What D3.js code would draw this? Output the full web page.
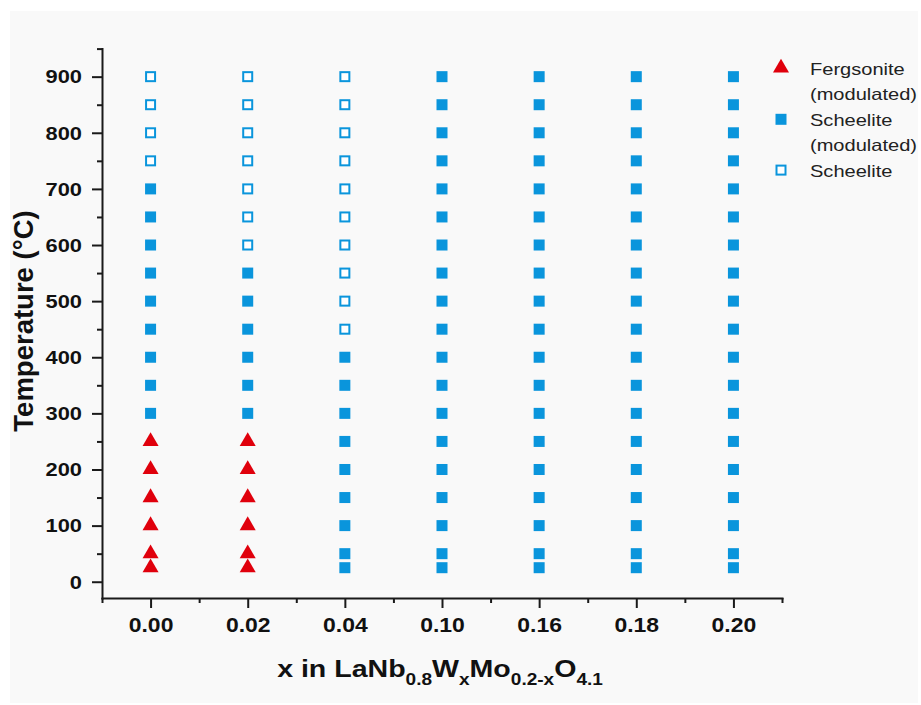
<!DOCTYPE html>
<html>
<head>
<meta charset="utf-8">
<script src="https://cdn.jsdelivr.net/npm/d3@7"></script>
<style>
  html, body { margin: 0; padding: 0; background: #ffffff; }
  svg { display: block; font-family: "Liberation Sans", Arial, sans-serif; }
</style>
</head>
<body>
<svg id="chart" width="921" height="705"></svg>
<script>
// ---- data ----
const categories = ["0.00", "0.02", "0.04", "0.10", "0.16", "0.18", "0.20"];
const yMajorTicks = [0, 100, 200, 300, 400, 500, 600, 700, 800, 900];
const yMinorTicks = [50, 150, 250, 350, 450, 550, 650, 750, 850, 950];

// Fergsonite (modulated): red triangles
const fergsonite = [
  { x: "0.00", t: [25, 50, 100, 150, 200, 250] },
  { x: "0.02", t: [25, 50, 100, 150, 200, 250] }
];
// Scheelite (modulated): filled blue squares
const scheeliteModulated = [
  { x: "0.00", t: [300, 350, 400, 450, 500, 550, 600, 650, 700] },
  { x: "0.02", t: [300, 350, 400, 450, 500, 550] },
  { x: "0.04", t: [25, 50, 100, 150, 200, 250, 300, 350, 400] },
  { x: "0.10", t: [25, 50, 100, 150, 200, 250, 300, 350, 400, 450, 500, 550, 600, 650, 700, 750, 800, 850, 900] },
  { x: "0.16", t: [25, 50, 100, 150, 200, 250, 300, 350, 400, 450, 500, 550, 600, 650, 700, 750, 800, 850, 900] },
  { x: "0.18", t: [25, 50, 100, 150, 200, 250, 300, 350, 400, 450, 500, 550, 600, 650, 700, 750, 800, 850, 900] },
  { x: "0.20", t: [25, 50, 100, 150, 200, 250, 300, 350, 400, 450, 500, 550, 600, 650, 700, 750, 800, 850, 900] }
];
// Scheelite: open blue squares
const scheelite = [
  { x: "0.00", t: [750, 800, 850, 900] },
  { x: "0.02", t: [600, 650, 700, 750, 800, 850, 900] },
  { x: "0.04", t: [450, 500, 550, 600, 650, 700, 750, 800, 850, 900] }
];
const legendLabels = [["Fergsonite", "(modulated)"], ["Scheelite", "(modulated)"], ["Scheelite"]];

// ---- styles ----
const RED = "#e0000c";
const BLUE = "#0a95dc";
const AXIS = "#1a1a1a";

const svg = d3.select("#chart");
svg.append("rect").attr("x", 10).attr("y", 11).attr("width", 908).attr("height", 692).attr("fill", "#f9f9f9");

const x = d3.scaleLinear().domain([-0.5, categories.length - 0.5]).range([102, 782]);
const y = d3.scaleLinear().domain([-29, 950]).range([598, 48.6]);
const xOf = c => x(categories.indexOf(c));

// flatten
const pts = (arr) => arr.flatMap(d => d.t.map(t => ({ x: d.x, t })));

// ---- axes ----
const gy = svg.append("g").attr("transform", `translate(${x.range()[0]},0)`);
gy.call(d3.axisLeft(y).tickValues(yMajorTicks).tickSize(10).tickSizeOuter(0));
const gyMinor = svg.append("g").attr("transform", `translate(${x.range()[0]},0)`);
gyMinor.call(d3.axisLeft(y).tickValues(yMinorTicks).tickSize(5).tickFormat(""));
gyMinor.select(".domain").remove();

const gx = svg.append("g").attr("transform", `translate(0,${y.range()[0]})`);
gx.call(d3.axisBottom(x).tickValues(d3.range(categories.length)).tickFormat(i => categories[i]).tickSize(10).tickSizeOuter(0));
const gxMinor = svg.append("g").attr("transform", `translate(0,${y.range()[0]})`);
gxMinor.call(d3.axisBottom(x).tickValues(d3.range(categories.length + 1).map(i => i - 0.5)).tickSize(5).tickFormat(""));
gxMinor.select(".domain").remove();

svg.selectAll(".domain, .tick line").attr("stroke", AXIS).attr("stroke-width", 2);
svg.selectAll(".domain").attr("stroke-linecap", "square");

gy.selectAll(".tick text")
  .attr("x", 0).attr("dy", "0.36em")
  .attr("transform", "translate(-20,0) scale(1.25,1)")
  .attr("text-anchor", "end")
  .attr("font-size", 17.5).attr("font-weight", "bold").attr("fill", "#111");

gx.selectAll(".tick text")
  .attr("y", 0).attr("dy", 0)
  .attr("transform", "translate(0,33.5) scale(1.12,1)")
  .attr("text-anchor", "middle")
  .attr("font-size", 20.5).attr("font-weight", "bold").attr("fill", "#111");

// ---- titles ----
const xt = svg.append("text")
  .attr("transform", "translate(440,677) scale(1.19,1)")
  .attr("text-anchor", "middle").attr("font-size", 24).attr("font-weight", "bold").attr("fill", "#111");
const parts = [["x in LaNb", 0], ["0.8", 1], ["W", 0], ["x", 1], ["Mo", 0], ["0.2-x", 1], ["O", 0], ["4.1", 1]];
let prevSub = 0;
parts.forEach(([s, sub]) => {
  const ts = xt.append("tspan").text(s);
  const dy = (sub - prevSub) * 8;
  if (dy !== 0) ts.attr("dy", dy);
  if (sub) ts.attr("font-size", 16);
  prevSub = sub;
});

svg.append("text")
  .attr("transform", "translate(33,321) rotate(-90)")
  .attr("text-anchor", "middle").attr("font-size", 27.5).attr("font-weight", "bold").attr("fill", "#111")
  .text("Temperature (°C)");

// ---- marks ----
const tri = d3.symbol().type(d3.symbolTriangle).size(111);
svg.append("g").selectAll("path").data(pts(fergsonite)).join("path")
  .attr("d", tri).attr("fill", RED)
  .attr("transform", d => `translate(${xOf(d.x)},${y(d.t)})`);

svg.append("g").selectAll("rect").data(pts(scheeliteModulated)).join("rect")
  .attr("x", d => xOf(d.x) - 5.5).attr("y", d => y(d.t) - 5.5)
  .attr("width", 11).attr("height", 11).attr("fill", BLUE);

svg.append("g").selectAll("rect").data(pts(scheelite)).join("rect")
  .attr("x", d => xOf(d.x) - 4.5).attr("y", d => y(d.t) - 4.5)
  .attr("width", 9).attr("height", 9).attr("fill", "#fff")
  .attr("stroke", BLUE).attr("stroke-width", 2);

// ---- legend ----
const lg = svg.append("g");
const lineH = 25.4, base0 = 75, lx = 781, tx = 810;
lg.append("path").attr("d", tri).attr("fill", RED).attr("transform", `translate(${lx},${base0 - 7})`);
lg.append("rect").attr("x", lx - 5.5).attr("y", base0 + 2 * lineH - 6.5 - 5.5).attr("width", 11).attr("height", 11).attr("fill", BLUE);
lg.append("rect").attr("x", lx - 4.5).attr("y", base0 + 4 * lineH - 6.5 - 4.5).attr("width", 9).attr("height", 9)
  .attr("fill", "#fff").attr("stroke", BLUE).attr("stroke-width", 2);
let row = 0;
legendLabels.forEach(lines => {
  lines.forEach(s => {
    lg.append("text")
      .attr("transform", `translate(${tx},${base0 + row * lineH}) scale(1.23,1)`)
      .attr("font-size", 16.3).attr("fill", "#222").text(s);
    row++;
  });
});
</script>
</body>
</html>
